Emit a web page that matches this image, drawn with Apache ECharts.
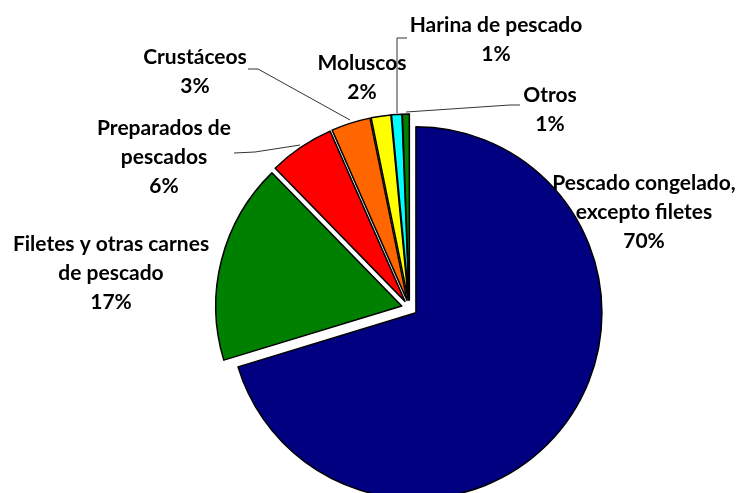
<!DOCTYPE html>
<html>
<head>
<meta charset="utf-8">
<script src="https://cdn.jsdelivr.net/npm/echarts@6/dist/echarts.min.js"></script>
<style>html,body{margin:0;padding:0;background:#fff}#c{width:741px;height:493px}</style>
</head>
<body>
<div id="c"></div>
<script>
const categories = ['Pescado congelado,\nexcepto filetes', 'Filetes y otras carnes\nde pescado', 'Preparados de\npescados', 'Crustáceos', 'Moluscos', 'Harina de pescado', 'Otros'];
const values = [70.3, 17.4, 5.7, 3.4, 1.7, 0.9, 0.6];
const colors = ['#000080', '#008000', '#FF0000', '#FF6600', '#FFFF00', '#00FFFF', '#008000'];

// label layout (positions only)
const labelPos = [
  {x: 644, y: 212, line: null},
  {x: 111, y: 273, line: null},
  {x: 164, y: 157, line: [[300,145],[255,152],[234,153]]},
  {x: 195, y: 72, line: [[350,120],[258,69],[248,69]]},
  {x: 362, y: 78, line: null},
  {x: 496, y: 40, line: [[397,113],[397,38],[407,38]]},
  {x: 550, y: 110, line: [[406,112],[510,105],[520,105]]}
];

const center = [409.5, 308];
const R = 186;

const chart = echarts.init(document.getElementById('c'), null, {renderer: 'canvas'});
chart.setOption({
  animation: false,
  series: [{
    type: 'pie',
    center: center,
    radius: R,
    startAngle: 90,
    clockwise: true,
    selectedMode: 'multiple',
    selectedOffset: 8,
    emphasis: {disabled: true},
    silent: true,
    itemStyle: {borderColor: '#000', borderWidth: 1.5},
    label: {show: false},
    labelLine: {show: false},
    data: categories.map((c, i) => ({
      name: c, value: values[i], selected: true,
      itemStyle: {color: colors[i]}
    }))
  }, {
    type: 'pie',
    center: center,
    radius: R,
    startAngle: 90,
    clockwise: true,
    avoidLabelOverlap: false,
    selectedMode: false,
    silent: true,
    percentPrecision: 0,
    emphasis: {disabled: true},
    z: 5,
    itemStyle: {color: 'rgba(0,0,0,0)', borderWidth: 0},
    label: {
      show: true,
      position: 'outside',
      formatter: '{b}\n{d}%',
      fontFamily: 'Lato',
      fontWeight: 'bold',
      fontSize: 21,
      lineHeight: 29,
      color: '#000',
      align: 'center',
      overflow: 'none'
    },
    labelLine: {show: true, length: 5, length2: 5, lineStyle: {color: '#333', width: 1}},
    labelLayout: function (p) {
      const L = labelPos[p.dataIndex];
      const r = {x: L.x, y: L.y, align: 'center', verticalAlign: 'middle'};
      if (L.line) r.labelLinePoints = L.line;
      return r;
    },
    data: categories.map((c, i) => ({
      name: c, value: values[i],
      labelLine: {show: labelPos[i].line !== null}
    }))
  }]
});
</script>
</body>
</html>
